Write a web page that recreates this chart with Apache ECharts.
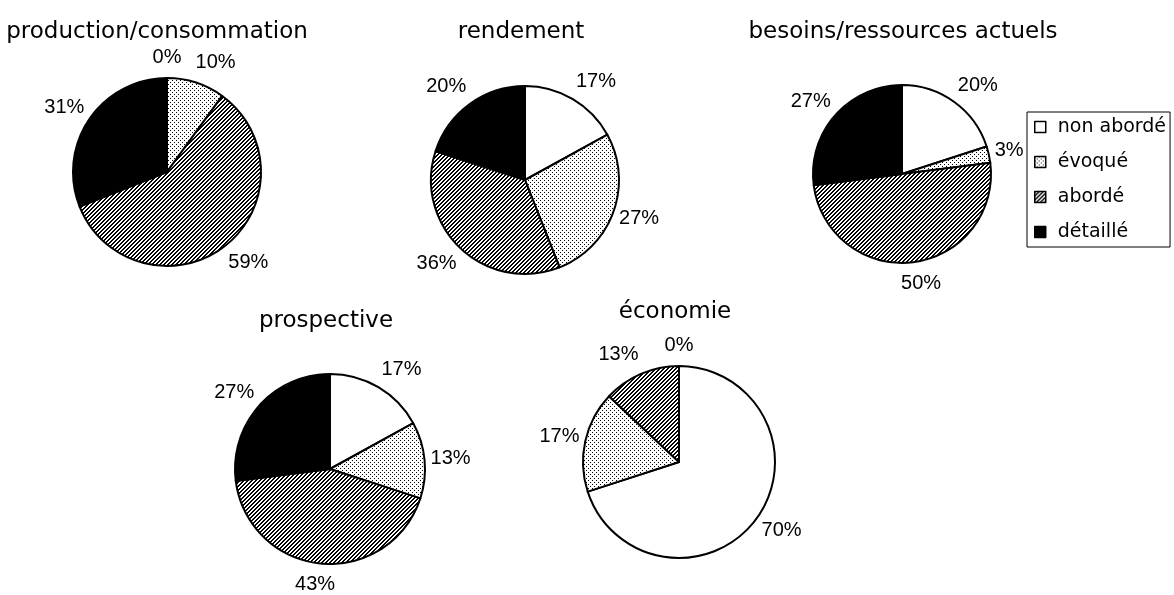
<!DOCTYPE html>
<html>
<head>
<meta charset="utf-8">
<script src="https://cdn.jsdelivr.net/npm/echarts/dist/echarts.min.js"></script>
<style>
  html, body { margin: 0; padding: 0; background: #ffffff; }
  #chart { width: 1174px; height: 595px; }
</style>
</head>
<body>
<div id="chart"></div>
<script>
// Answer levels, in slice order (clockwise from 12 o'clock)
const categories = ['non abordé', 'évoqué', 'abordé', 'détaillé'];

// Topic titles
const topics = ['production/consommation', 'rendement', 'besoins/ressources actuels', 'prospective', 'économie'];

// Share of each answer level per topic (%)
const productionConsommation = [0, 10, 59, 31];
const rendement = [17, 27, 36, 20];
const besoinsRessources = [20, 3, 50, 27];
const prospective = [17, 13, 43, 27];
const economie = [70, 17, 13, 0];
const topicValues = [productionConsommation, rendement, besoinsRessources, prospective, economie];

// Placement of each pie and its title
const pieLayout = [
  { center: [167, 172], radius: 94, titleX: 157, titleY: 21 },
  { center: [525, 180], radius: 94, titleX: 521, titleY: 21 },
  { center: [902, 174], radius: 89, titleX: 903, titleY: 21 },
  { center: [330, 469], radius: 95, titleX: 326, titleY: 310 },
  { center: [679, 462], radius: 96, titleX: 675, titleY: 301 }
];

// Small bitmap tiles used as fills
function makeTile(w, h, dots) {
  const c = document.createElement('canvas');
  c.width = w; c.height = h;
  const g = c.getContext('2d');
  g.fillStyle = '#ffffff';
  g.fillRect(0, 0, w, h);
  g.fillStyle = '#000000';
  dots.forEach(function (d) { g.fillRect(d[0], d[1], 1, 1); });
  return c;
}
const dottedTile = makeTile(4, 4, [[0, 0], [2, 2]]);
const hatchTile = makeTile(4, 4, [[3, 0], [0, 0], [2, 1], [3, 1], [1, 2], [2, 2], [0, 3], [1, 3]]);
const fills = [
  '#ffffff',
  { image: dottedTile, repeat: 'repeat' },
  { image: hatchTile, repeat: 'repeat' },
  '#000000'
];

// Percentages sit just outside the rim: pushed out along the slice's middle
// direction, then shifted sideways by half their width on the left/right sides
const LABEL_GAP = 6;
const LABEL_VPAD = 15;
function placeLabel(p) {
  const pts = p.labelLinePoints;
  if (!pts || pts.length < 2) return {};
  let dx = pts[1][0] - pts[0][0];
  let dy = pts[1][1] - pts[0][1];
  const len = Math.hypot(dx, dy);
  if (!len) return {};
  dx /= len; dy /= len;
  const side = Math.max(-1, Math.min(1, dx / 0.35));
  const w = p.labelRect.width;
  return {
    x: pts[0][0] + dx * LABEL_GAP + side * w / 2,
    y: pts[0][1] + dy * (LABEL_GAP + LABEL_VPAD),
    align: 'center',
    verticalAlign: 'middle'
  };
}

const titleFont = { fontFamily: 'DejaVu Sans', fontSize: 23, fontWeight: 'normal', color: '#000000' };

const chart = echarts.init(document.getElementById('chart'), null, { renderer: 'canvas' });
chart.setOption({
  backgroundColor: '#ffffff',
  animation: false,
  title: topics.map(function (t, i) {
    return {
      text: t,
      left: pieLayout[i].titleX,
      top: pieLayout[i].titleY,
      textAlign: 'center',
      padding: 0,
      textStyle: titleFont
    };
  }),
  legend: {
    orient: 'vertical',
    left: 1027,
    top: 112,
    data: categories,
    icon: 'rect',
    itemWidth: 11,
    itemHeight: 11,
    itemGap: 15,
    padding: [5, 4, 5, 7],
    borderColor: '#000000',
    borderWidth: 1,
    selectedMode: false,
    itemStyle: { borderColor: '#000000', borderWidth: 1.5 },
    textStyle: { fontFamily: 'DejaVu Sans', fontSize: 19, color: '#000000', lineHeight: 20, padding: [0, 0, 0, 7] }
  },
  series: topicValues.map(function (vals, i) {
    return {
      type: 'pie',
      name: topics[i],
      center: pieLayout[i].center,
      radius: pieLayout[i].radius,
      startAngle: 90,
      clockwise: true,
      avoidLabelOverlap: false,
      silent: true,
      itemStyle: { borderColor: '#000000', borderWidth: 2 },
      label: {
        show: true,
        position: 'outside',
        formatter: function (p) { return p.value + '%'; },
        fontFamily: 'Liberation Sans',
        fontSize: 20,
        color: '#000000'
      },
      labelLine: { show: true, length: 10, length2: 0, lineStyle: { width: 0, opacity: 0 } },
      labelLayout: placeLabel,
      data: vals.map(function (v, k) {
        return { name: categories[k], value: v, itemStyle: { color: fills[k] } };
      })
    };
  })
});
</script>
</body>
</html>
